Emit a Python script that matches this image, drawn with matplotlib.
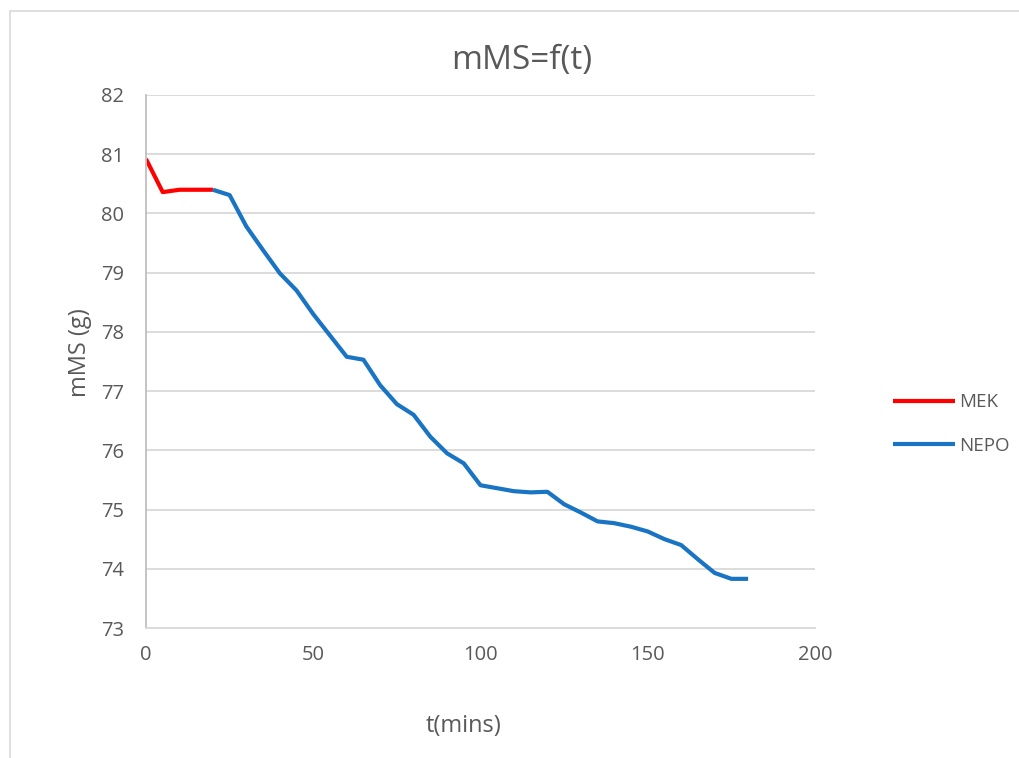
import matplotlib.pyplot as plt
from matplotlib.patches import Rectangle

# dados
t_mek = [0, 5, 10, 15, 20]
m_mek = [80.92, 80.36, 80.4, 80.4, 80.4]

t_nepo = [20, 25, 30, 35, 40, 45, 50, 55, 60, 65, 70, 75, 80, 85, 90, 95,
          100, 105, 110, 115, 120, 125, 130, 135, 140, 145, 150, 155, 160,
          165, 170, 175, 180]
m_nepo = [80.4, 80.31, 79.78, 79.38, 78.99, 78.7, 78.3, 77.94, 77.58, 77.53,
          77.1, 76.78, 76.6, 76.23, 75.95, 75.78, 75.41, 75.36, 75.31, 75.29,
          75.3, 75.09, 74.95, 74.8, 74.77, 74.71, 74.63, 74.5, 74.4, 74.16,
          73.93, 73.83, 73.83]

xticks = [0, 50, 100, 150, 200]
yticks = [73, 74, 75, 76, 77, 78, 79, 80, 81, 82]

plt.rcParams['font.family'] = ['Open Sans', 'DejaVu Sans']
cinza = '#595959'

fig = plt.figure(figsize=(10.19, 7.58), dpi=100)
ax = fig.add_axes([146 / 1019, 1 - 628 / 758, 669 / 1019, 533 / 758])

# moldura do gráfico
fig.patches.append(Rectangle((10 / 1019, -0.1), 1.2, 1 - 11 / 758 + 0.1,
                             transform=fig.transFigure, fill=False,
                             edgecolor='#d9d9d9', linewidth=1.2))

ax.plot(t_mek, m_mek, color='#ff0000', lw=3, label='MEK',
        solid_joinstyle='round', solid_capstyle='butt')
ax.plot(t_nepo, m_nepo, color='#1a74c4', lw=3, label='NEPO',
        solid_joinstyle='round', solid_capstyle='butt')

ax.set_xlim(0, 200)
ax.set_ylim(73, 82)
ax.set_xticks(xticks)
ax.set_yticks(yticks)
ax.grid(axis='y', color='#d9d9d9', lw=1.3)
ax.set_axisbelow(True)
for s in ['top', 'right']:
    ax.spines[s].set_visible(False)
ax.spines['left'].set_color('#bfbfbf')
ax.spines['left'].set_linewidth(1.3)
ax.spines['bottom'].set_color('#d9d9d9')
ax.spines['bottom'].set_linewidth(1.3)
ax.tick_params(length=0, labelsize=14.5, labelcolor=cinza)
ax.tick_params(axis='y', pad=16)
ax.tick_params(axis='x', pad=12)

fig.text(522 / 1019, 1 - 60 / 758, 'mMS=f(t)', ha='center', va='center',
         fontsize=24, color=cinza)
fig.text(464 / 1019, 1 - 726 / 758, 't(mins)', ha='center', va='center',
         fontsize=17, color=cinza)
fig.text(80 / 1019, 1 - 353 / 758, 'mMS (g)', ha='center', va='center',
         fontsize=17, color=cinza, rotation=90)

ax.legend(loc='center left', bbox_to_anchor=(1.092, 0.383), frameon=False,
          fontsize=13.5, labelcolor=cinza, handlelength=3.3, handletextpad=0.2,
          labelspacing=1.35)

plt.savefig('out.png')
